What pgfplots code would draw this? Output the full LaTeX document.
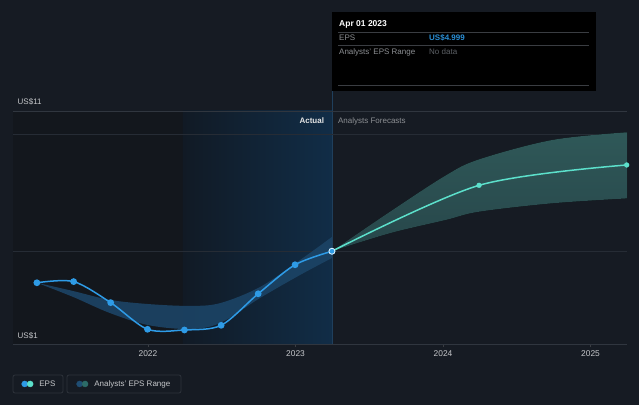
\documentclass[border=0pt]{standalone}
\usepackage{pgfplots}
\pgfplotsset{compat=1.18}
\usepgfplotslibrary{fillbetween}
\usepackage{fontspec}
\setmainfont{Liberation Sans}
\definecolor{bgc}{HTML}{161B23}
\definecolor{leftreg}{HTML}{13171D}
\definecolor{blueL}{HTML}{111A25}
\definecolor{blueR}{HTML}{112D47}
\definecolor{gridc}{HTML}{262C35}
\definecolor{topc}{HTML}{30363F}
\definecolor{epsc}{HTML}{2E9BE6}
\definecolor{fcc}{HTML}{5CE0CB}
\definecolor{bandp}{HTML}{1C4466}
\definecolor{bandfT}{HTML}{2F5858}
\definecolor{bandfB}{HTML}{27464A}
\definecolor{tickc}{HTML}{C5C7CA}
\definecolor{grayt}{HTML}{8C8F93}
\definecolor{dimt}{HTML}{5D6166}
\definecolor{tipline}{HTML}{3A3D42}
\definecolor{tipblue}{HTML}{2A8FD6}
\definecolor{divc}{HTML}{1F3F5C}
\definecolor{legbox}{HTML}{2E333B}
\definecolor{rangeA}{HTML}{1F4D73}
\definecolor{rangeB}{HTML}{2C6B68}
\begin{document}
\begin{tikzpicture}
% divider above axis
\draw[divc, line width=0.8pt] (332pt,294pt) -- (332pt,314pt);
% tooltip
\fill[black] (332pt,314pt) rectangle (596pt,393pt);
\node[anchor=west, inner sep=0pt, text=white, font=\fontsize{8.5}{10}\selectfont\bfseries] at (339pt,381pt) {Apr 01 2023};
\draw[tipline, line width=0.6pt] (338pt,373pt) -- (589pt,373pt);
\node[anchor=west, inner sep=0pt, text=grayt, font=\fontsize{8}{10}\selectfont] at (339pt,367pt) {EPS};
\node[anchor=west, inner sep=0pt, text=tipblue, font=\fontsize{8}{10}\selectfont\bfseries] at (429pt,367pt) {US\$4.999};
\draw[tipline, line width=0.6pt] (338pt,360pt) -- (589pt,360pt);
\node[anchor=west, inner sep=0pt, text=grayt, font=\fontsize{8}{10}\selectfont] at (339pt,353pt) {Analysts' EPS Range};
\node[anchor=west, inner sep=0pt, text=dimt, font=\fontsize{8}{10}\selectfont] at (429pt,353pt) {No data};
\draw[tipline, line width=0.6pt] (338pt,320pt) -- (589pt,320pt);
% legend boxes
\draw[legbox, line width=0.8pt, rounded corners=2pt] (13pt,12pt) rectangle (63pt,30pt);
\draw[legbox, line width=0.8pt, rounded corners=2pt] (67pt,12pt) rectangle (181pt,30pt);
\begin{axis}[
  set layers,
  clip mode=individual,
  at={(13pt,60.3pt)}, anchor=south west,
  scale only axis, width=614pt, height=233.7pt,
  xmin=2021.085, xmax=2025.247, ymin=1, ymax=11,
  axis line style={draw=none},
  ytick=\empty,
  xtick={2022,2023,2024,2025},
  xticklabels={2022,2023,2024,2025},
  xtick pos=left,
  tick align=outside,
  major tick length=2pt,
  tick style={draw=tipline, line width=0.6pt},
  x tick label style={font=\fontsize{8.4}{10}\selectfont, text=tickc},
  legend style={at={(axis description cs:0.0138,-0.168)}, anchor=west,
    draw=none, fill=none, inner sep=0pt, outer sep=0pt,
    font=\fontsize{8}{10}\selectfont, text=tickc,
    nodes={inner xsep=0pt, inner ysep=1pt},
    /tikz/every odd column/.append style={column sep=6pt},
    /tikz/every even column/.append style={column sep=21pt}},
  legend columns=2,
]
\begin{pgfonlayer}{axis background}
% page background
\fill[bgc] (rel axis cs:-0.021173,-0.258023) rectangle (rel axis cs:1.019544,1.474968);
% background regions
\fill[leftreg] (axis cs:2021.085,1) rectangle (axis cs:2022.237,11);
\shade[left color=blueL, right color=blueR] (axis cs:2022.237,1) rectangle (axis cs:2023.247,11);
\draw[divc, line width=0.8pt] (axis cs:2023.247,1) -- (axis cs:2023.247,11);
% grid lines
\draw[gridc, line width=0.6pt] (axis cs:2021.085,5) -- (axis cs:2025.247,5);
\draw[gridc, line width=0.6pt] (axis cs:2021.085,10) -- (axis cs:2025.247,10);
\draw[topc, line width=0.8pt] (axis cs:2021.085,11) -- (axis cs:2025.247,11);
\draw[topc, line width=0.8pt] (axis cs:2021.085,1) -- (axis cs:2025.247,1);
\end{pgfonlayer}
% past analyst range
\addplot[name path=pu, draw=none, smooth, tension=0.55, forget plot] coordinates {
(2021.247,3.65) (2021.49,3.30) (2021.74,2.92) (2022.0,2.74) (2022.285,2.66) (2022.49,2.78) (2022.76,3.47) (2023.03,4.62) (2023.247,5.61)};
\addplot[name path=pl, draw=none, smooth, tension=0.55, forget plot] coordinates {
(2021.247,3.65) (2021.49,3.05) (2021.74,2.36) (2022.0,1.84) (2022.285,1.67) (2022.49,1.93) (2022.76,3.0) (2023.03,3.98) (2023.247,4.71)};
\addplot[bandp, fill opacity=0.9, forget plot] fill between[of=pu and pl];
% forecast range
\addplot[name path=fu, draw=none, smooth, tension=0.55, forget plot] coordinates {
(2023.247,5.0) (2023.64,6.69) (2024.02,8.25) (2024.244,8.93) (2024.74,9.76) (2025.247,10.09)};
\addplot[name path=fl, draw=none, smooth, tension=0.55, forget plot] coordinates {
(2023.247,5.0) (2023.64,5.77) (2024.02,6.34) (2024.244,6.69) (2024.74,7.05) (2025.247,7.26)};
\addplot[top color=bandfT, bottom color=bandfB, forget plot] fill between[of=fu and fl];
% EPS actual
\addplot[epsc, line width=1.5pt, smooth, tension=0.5, mark=*, mark size=2.6pt, mark options={fill=epsc, draw=epsc}, forget plot] coordinates {
(2021.247,3.65) (2021.496,3.70) (2021.747,2.80) (2021.997,1.66) (2022.247,1.63) (2022.496,1.83) (2022.747,3.18) (2022.997,4.42) (2023.247,4.999)};
% EPS forecast
\addplot[fcc, line width=1.5pt, smooth, tension=0.5, forget plot] coordinates {
(2023.247,4.999) (2024.244,7.82) (2025.245,8.69)};
\addplot[fcc, only marks, mark=*, mark size=2.4pt, mark options={fill=fcc, draw=fcc}, forget plot] coordinates {
(2024.244,7.82) (2025.245,8.69)};
% highlighted point
\addplot[only marks, mark=*, mark size=3pt, mark options={fill=epsc, draw=white!85!epsc, line width=0.8pt}, forget plot] coordinates {(2023.247,4.999)};
% labels
\node[anchor=base west, inner sep=0pt, text=tickc, font=\fontsize{8}{10}\selectfont] at (axis cs:2021.085,11) [xshift=4.5pt, yshift=6.7pt] {US\$11};
\node[anchor=base west, inner sep=0pt, text=tickc, font=\fontsize{8}{10}\selectfont] at (axis cs:2021.085,1) [xshift=4.5pt, yshift=6.4pt] {US\$1};
\node[anchor=base east, inner sep=0pt, text=white!90!black, font=\fontsize{8}{10}\selectfont\bfseries] at (axis cs:2023.247,11) [xshift=-7.7pt, yshift=-12.3pt] {Actual};
\node[anchor=base west, inner sep=0pt, text=grayt, font=\fontsize{8}{10}\selectfont] at (axis cs:2023.247,11) [xshift=6pt, yshift=-12.3pt] {Analysts Forecasts};
% legend
\addlegendimage{legend image code/.code={\fill[epsc] (0pt,0pt) circle (3pt); \fill[fcc] (5.5pt,0pt) circle (3pt);}}
\addlegendentry{EPS}
\addlegendimage{legend image code/.code={\fill[rangeA] (0pt,0pt) circle (3pt); \fill[rangeB] (5.5pt,0pt) circle (3pt);}}
\addlegendentry{Analysts' EPS Range}
\end{axis}
\end{tikzpicture}
\end{document}
